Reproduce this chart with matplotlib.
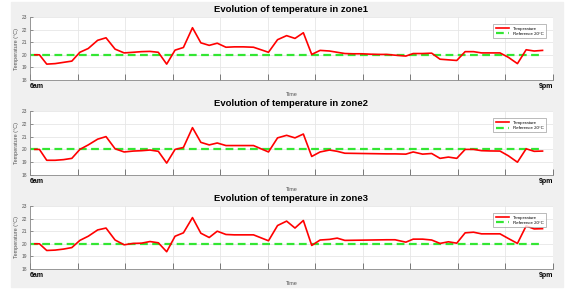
import matplotlib
matplotlib.use("Agg")
import matplotlib.pyplot as plt
from matplotlib.patches import Rectangle
import numpy as np

# time of each sample, in hours of the day
hours = [6.14, 6.27, 6.48, 6.72, 6.96, 7.20, 7.43, 7.67, 7.94, 8.18,
         8.44, 8.70, 8.96, 9.20, 9.44, 9.68, 9.92, 10.16, 10.40, 10.66,
         10.90, 11.14, 11.37, 11.62, 11.86, 12.12, 12.41, 12.84, 13.10, 13.36,
         13.60, 13.84, 14.08, 14.32, 14.59, 14.81, 15.03, 15.27, 15.51, 15.75,
         15.99, 16.23, 16.47, 16.78, 16.99, 17.26, 17.52, 17.76, 18.00, 18.24,
         18.48, 18.72, 18.95, 19.19, 19.48, 19.72, 19.98, 20.23, 20.46, 20.70]

zone1 = [20.0, 20.0, 19.26, 19.3, 19.4, 19.5, 20.2, 20.5, 21.15, 21.35,
         20.45, 20.15, 20.2, 20.25, 20.27, 20.2, 19.26, 20.37, 20.58, 22.15,
         20.95, 20.75, 20.92, 20.6, 20.63, 20.63, 20.6, 20.2, 21.2, 21.52,
         21.3, 21.75, 20.03, 20.35, 20.3, 20.2, 20.1, 20.08, 20.08, 20.05,
         20.03, 20.03, 19.97, 19.9, 20.1, 20.1, 20.13, 19.65, 19.6, 19.55,
         20.25, 20.25, 20.15, 20.15, 20.15, 19.8, 19.3, 20.4, 20.3, 20.35]

zone2 = [20.0, 20.0, 19.15, 19.15, 19.2, 19.3, 20.0, 20.35, 20.8, 21.0,
         20.05, 19.8, 19.87, 19.9, 19.95, 19.85, 18.93, 20.0, 20.15, 21.7,
         20.55, 20.35, 20.5, 20.3, 20.3, 20.3, 20.3, 19.8, 20.9, 21.1,
         20.9, 21.2, 19.45, 19.8, 19.95, 19.85, 19.7, 19.69, 19.68, 19.67,
         19.66, 19.65, 19.65, 19.63, 19.8, 19.63, 19.68, 19.3, 19.4, 19.3,
         20.0, 20.0, 19.9, 19.88, 19.87, 19.5, 19.0, 20.05, 19.85, 19.87]

zone3 = [20.0, 20.0, 19.47, 19.5, 19.58, 19.7, 20.27, 20.6, 21.1, 21.25,
         20.3, 19.92, 20.03, 20.05, 20.18, 20.08, 19.37, 20.6, 20.87, 22.08,
         20.84, 20.5, 21.0, 20.74, 20.71, 20.71, 20.71, 20.24, 21.45, 21.8,
         21.25, 21.85, 19.87, 20.3, 20.35, 20.45, 20.27, 20.28, 20.29, 20.3,
         20.31, 20.32, 20.32, 20.13, 20.37, 20.37, 20.3, 20.03, 20.16, 20.05,
         20.87, 20.92, 20.79, 20.79, 20.79, 20.42, 20.03, 21.42, 21.18, 21.2]

zones = [("zone1", zone1), ("zone2", zone2), ("zone3", zone3)]
reference = 20
y_ticks = [18, 19, 20, 21, 22, 23]
x_start, x_end = 6, 21
x_labels = ["6am", "9pm"]

W, H = 565, 289
plt.rcParams['font.family'] = ['Liberation Sans', 'DejaVu Sans']

fig = plt.figure(figsize=(W / 100, H / 100), dpi=100)
fig.patches.append(Rectangle((11 / W, 2 / H), 552 / W, 285 / H,
                             transform=fig.transFigure, color='#f0f0f0', zorder=-10))

# panel (top, bottom) in pixels
panels = [(17, 80), (111, 175), (206, 269)]
left, right = 30, 553

for (name, temps), (top, bottom) in zip(zones, panels):
    ax = fig.add_axes([left / W, 1 - bottom / H, (right - left) / W, (bottom - top) / H])
    ax.plot(hours, temps, color='#ff0000', lw=1.2, label='Temperature', zorder=3)
    ax.plot([x_start, hours[-1]], [reference, reference], color='#33e633', lw=1.6,
            ls=(0, (3.5, 2)), label='Reference 20°C', zorder=2)
    ax.set_xlim(x_start, x_end)
    ax.set_ylim(y_ticks[0], y_ticks[-1])
    xt = np.linspace(x_start, x_end, 12)
    ax.set_xticks(xt)
    labels = ax.set_xticklabels([x_labels[0]] + [''] * 10 + [x_labels[1]],
                                fontsize=5, fontweight='bold')
    labels[0].set_horizontalalignment('left')
    labels[-1].set_horizontalalignment('right')
    ax.set_yticks(y_ticks)
    ax.set_yticklabels([str(t) for t in y_ticks], fontsize=3.5, color='#555555')
    ax.tick_params(axis='x', direction='in', length=4, width=0.6, color='#666666', pad=2.5)
    ax.tick_params(axis='y', direction='in', length=2.5, width=0.5, color='#666666', pad=2)
    ax.grid(True, color='#e6e6e6', lw=0.6)
    ax.set_axisbelow(True)
    for s in ['top', 'right']:
        ax.spines[s].set_visible(False)
    for s in ['left', 'bottom']:
        ax.spines[s].set_color('#888888')
        ax.spines[s].set_linewidth(0.6)
    ax.set_title('Evolution of temperature in ' + name, fontsize=6.8,
                 fontweight='bold', pad=3.5)
    ax.set_xlabel('Time', fontsize=4, color='#555555', labelpad=1)
    ax.set_ylabel('Temperature (°C)', fontsize=4, color='#555555', labelpad=2)
    leg = ax.legend(loc='upper right', fontsize=3.2, frameon=True, fancybox=False,
                    edgecolor='#888888', handlelength=3, borderpad=0.5,
                    labelspacing=0.3, bbox_to_anchor=(0.99, 0.92))
    leg.get_frame().set_linewidth(0.5)

fig.savefig('out.png', dpi=100)
